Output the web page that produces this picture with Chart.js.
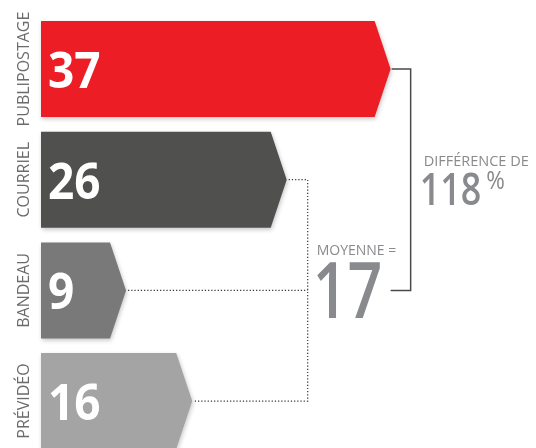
<!DOCTYPE html>
<html lang="fr">
<head>
    <meta charset="UTF-8">
    <title>Moyenne par canal</title>
    <script src="https://cdn.jsdelivr.net/npm/chart.js"></script>
    <style>
        html, body { margin: 0; padding: 0; overflow: hidden; background: #fff; }
        .wrap { width: 536px; height: 470px; }
    </style>
</head>
<body>
    <div class="wrap"><canvas id="channelChart"></canvas></div>

    <script>
        const categories = ['PUBLIPOSTAGE', 'COURRIEL', 'BANDEAU', 'PRÉVIDÉO'];
        const values = [37, 26, 9, 16];
        const barColors = ['#ec1d25', '#50504e', '#797979', '#a4a4a4'];

        // moyenne des trois autres canaux et l'écart avec le premier
        const others = values.slice(1);
        const average = Math.round(others.reduce((a, b) => a + b, 0) / others.length);
        const difference = Math.round((values[0] - average) / average * 100);

        const FONT = "'Open Sans', 'DejaVu Sans', sans-serif";
        const GREY = '#898a8d';

        // narrow text, the original uses a condensed face
        function squeezedText(ctx, text, x, y, sx) {
            ctx.save();
            ctx.translate(x, y);
            ctx.scale(sx, 1);
            ctx.fillText(text, 0, 0);
            const w = ctx.measureText(text).width * sx;
            ctx.restore();
            return w;
        }

        // bars drawn as arrows, value written inside
        const arrowBars = {
            id: 'arrowBars',
            beforeDatasetsDraw(chart) {
                const ctx = chart.ctx;
                chart.getDatasetMeta(0).data.forEach((bar, i) => {
                    const top = bar.y - bar.height / 2;
                    const bottom = bar.y + bar.height / 2;
                    const d = 16;
                    ctx.save();
                    ctx.shadowColor = 'rgba(0, 0, 0, 0.22)';
                    ctx.shadowBlur = 4;
                    ctx.shadowOffsetX = 1;
                    ctx.shadowOffsetY = 2;
                    ctx.beginPath();
                    ctx.moveTo(bar.base, top);
                    ctx.lineTo(bar.x - d, top);
                    ctx.lineTo(bar.x, bar.y);
                    ctx.lineTo(bar.x - d, bottom);
                    ctx.lineTo(bar.base, bottom);
                    ctx.closePath();
                    ctx.fillStyle = bar.options.backgroundColor;
                    ctx.fill();
                    ctx.restore();

                    ctx.save();
                    ctx.fillStyle = '#fff';
                    ctx.font = 'bold 50px ' + FONT;
                    ctx.textBaseline = 'alphabetic';
                    squeezedText(ctx, String(values[i]), bar.base + 7, bar.y + 19, 0.92);
                    ctx.restore();
                });
                return false;
            }
        };

        // category names + the average / difference brackets
        const annotations = {
            id: 'annotations',
            afterDraw(chart) {
                const ctx = chart.ctx;
                const bars = chart.getDatasetMeta(0).data;
                const tip = i => bars[i].x;
                const cy = i => bars[i].y;

                ctx.save();
                ctx.fillStyle = '#6b6b6d';
                ctx.font = '16px ' + FONT;
                ctx.textAlign = 'center';
                bars.forEach((bar, i) => {
                    ctx.save();
                    ctx.translate(29, bar.y);
                    ctx.rotate(-Math.PI / 2);
                    ctx.fillText(categories[i], 0, 0);
                    ctx.restore();
                });
                ctx.restore();

                // solid bracket: max bar -> average
                const bracketX = tip(0) + 20;
                ctx.save();
                ctx.strokeStyle = '#4a4a4a';
                ctx.lineWidth = 1.5;
                ctx.beginPath();
                ctx.moveTo(tip(0) + 1, cy(0));
                ctx.lineTo(bracketX, cy(0));
                ctx.lineTo(bracketX, cy(2));
                ctx.lineTo(bracketX - 20, cy(2));
                ctx.stroke();
                ctx.restore();

                // dotted lines: other bars -> average
                const dotX = tip(1) + 21;
                ctx.save();
                ctx.strokeStyle = '#333';
                ctx.lineWidth = 1.2;
                ctx.setLineDash([1.2, 2]);
                ctx.beginPath();
                ctx.moveTo(tip(1) + 2, cy(1));
                ctx.lineTo(dotX, cy(1));
                ctx.lineTo(dotX, cy(3));
                ctx.lineTo(tip(3) + 2, cy(3));
                ctx.moveTo(tip(2) + 2, cy(2));
                ctx.lineTo(dotX, cy(2));
                ctx.stroke();
                ctx.restore();

                ctx.save();
                ctx.fillStyle = GREY;
                ctx.textBaseline = 'alphabetic';
                ctx.font = '14px ' + FONT;
                ctx.fillText('MOYENNE =', dotX + 9, cy(2) - 35);
                ctx.font = '600 78px ' + FONT;
                squeezedText(ctx, String(average), dotX + 5, cy(2) + 28, 0.78);

                const midY = (cy(0) + cy(2)) / 2;
                ctx.font = '14.5px ' + FONT;
                ctx.fillText('DIFFÉRENCE DE', bracketX + 13, midY - 14);
                ctx.font = '600 46px ' + FONT;
                const w = squeezedText(ctx, String(difference), bracketX + 9, midY + 25, 0.78);
                ctx.font = '25px ' + FONT;
                squeezedText(ctx, '%', bracketX + 9 + w + 5, midY + 9, 0.9);
                ctx.restore();
            }
        };

        const ctx = document.getElementById('channelChart').getContext('2d');

        const channelChart = new Chart(ctx, {
            type: 'bar',
            data: {
                labels: categories,
                datasets: [{
                    data: values,
                    backgroundColor: barColors,
                    barThickness: 96
                }]
            },
            options: {
                indexAxis: 'y',
                responsive: true,
                maintainAspectRatio: false,
                animation: false,
                layout: {
                    padding: { left: 41, right: 22.5, top: 13.7, bottom: 13.6 }
                },
                scales: {
                    x: { min: 0, max: 50, display: false },
                    y: { display: false }
                },
                plugins: {
                    legend: { display: false },
                    tooltip: { enabled: false }
                }
            },
            plugins: [arrowBars, annotations]
        });
    </script>
</body>
</html>
